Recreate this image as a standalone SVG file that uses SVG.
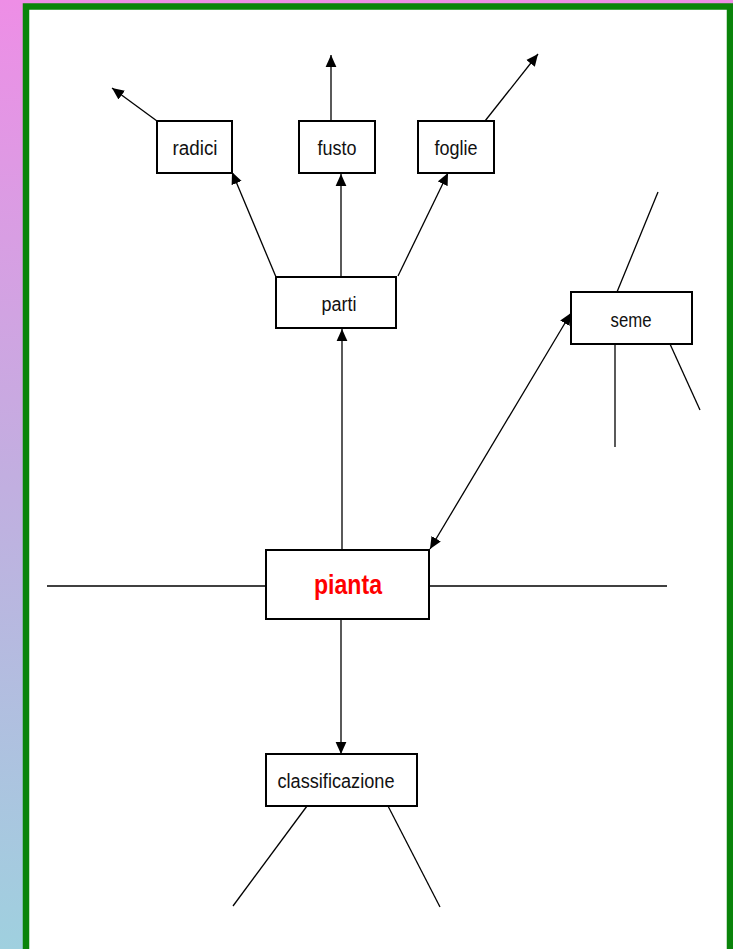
<svg xmlns="http://www.w3.org/2000/svg" width="733" height="949" viewBox="0 0 733 949">
<defs>
<linearGradient id="bg" x1="0" y1="0" x2="0" y2="1">
<stop offset="0" stop-color="#ee8ee6"/>
<stop offset="0.5" stop-color="#c2aee0"/>
<stop offset="1" stop-color="#9fd0df"/>
</linearGradient>
<marker id="ah" viewBox="0 0 10 10" refX="10" refY="5" markerWidth="12" markerHeight="12" markerUnits="userSpaceOnUse" orient="auto-start-reverse">
<path d="M0,0.5 L10,5 L0,9.5 z" fill="#000"/>
</marker>
<style>
.box{fill:#fff;stroke:#000;stroke-width:2}
.lbl{font-family:"Liberation Sans",Arial,sans-serif;font-size:20px;fill:#111;text-anchor:middle}
.ln{stroke:#000;stroke-width:1.3;fill:none}
.arr{stroke:#000;stroke-width:1.3;fill:none;marker-end:url(#ah)}
.dbl{stroke:#000;stroke-width:1.3;fill:none;marker-end:url(#ah);marker-start:url(#ah)}
</style>
</defs>
<rect x="0" y="0" width="733" height="949" fill="url(#bg)"/>
<rect x="26" y="6.5" width="704" height="950" fill="#fff" stroke="#0a840a" stroke-width="6.5"/>

<g id="connectors">
<line class="arr" x1="157" y1="121" x2="112" y2="88"/>
<line class="arr" x1="331" y1="121" x2="331" y2="55"/>
<line class="arr" x1="485" y1="121" x2="538" y2="54"/>
<line class="arr" x1="276" y1="277" x2="232" y2="172"/>
<line class="arr" x1="341" y1="277" x2="341" y2="174"/>
<line class="arr" x1="398" y1="276" x2="448" y2="173"/>
<line class="arr" x1="342" y1="550" x2="342" y2="329"/>
<line class="dbl" x1="430" y1="549" x2="571" y2="313"/>
<line class="arr" x1="341" y1="619" x2="341" y2="754"/>
<line class="ln" x1="47" y1="586" x2="266" y2="586" stroke-width="2"/>
<line class="ln" x1="429" y1="586" x2="667" y2="586" stroke-width="2"/>
<line class="ln" x1="617" y1="292" x2="658" y2="192"/>
<line class="ln" x1="615" y1="344" x2="615" y2="447"/>
<line class="ln" x1="670" y1="344" x2="700" y2="410"/>
<line class="ln" x1="307" y1="806" x2="233" y2="906"/>
<line class="ln" x1="388" y1="806" x2="440" y2="907"/>
</g>

<g id="radici"><rect class="box" x="157" y="121" width="75" height="52"/><text class="lbl" x="195" y="155" textLength="45" lengthAdjust="spacingAndGlyphs">radici</text></g>
<g id="fusto"><rect class="box" x="299" y="121" width="76" height="52"/><text class="lbl" x="337" y="155" textLength="39" lengthAdjust="spacingAndGlyphs">fusto</text></g>
<g id="foglie"><rect class="box" x="418" y="121" width="76" height="52"/><text class="lbl" x="456" y="155" textLength="43" lengthAdjust="spacingAndGlyphs">foglie</text></g>
<g id="parti"><rect class="box" x="276" y="277" width="120" height="51"/><text class="lbl" x="339" y="311" textLength="35" lengthAdjust="spacingAndGlyphs">parti</text></g>
<g id="seme"><rect class="box" x="571" y="292" width="121" height="52"/><text class="lbl" x="631" y="327" textLength="41" lengthAdjust="spacingAndGlyphs">seme</text></g>
<g id="pianta"><rect class="box" x="266" y="550" width="163" height="69"/><text x="348" y="594" font-family="'Liberation Sans',Arial,sans-serif" font-weight="bold" font-size="27" fill="#ff0000" text-anchor="middle" textLength="68" lengthAdjust="spacingAndGlyphs">pianta</text></g>
<g id="classificazione"><rect class="box" x="266" y="754" width="151" height="52"/><text class="lbl" x="336" y="788" textLength="117" lengthAdjust="spacingAndGlyphs">classificazione</text></g>
</svg>
